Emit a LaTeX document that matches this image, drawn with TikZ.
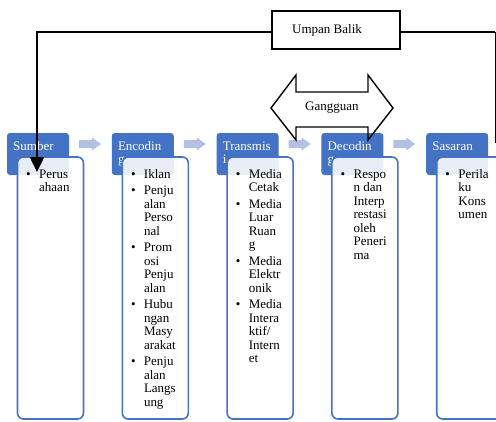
\documentclass[tikz,border=0pt]{standalone}
\usepackage{fontspec}
\setmainfont{Liberation Serif}
\usetikzlibrary{arrows.meta}
\definecolor{hdr}{RGB}{68,114,196}
\definecolor{chev}{RGB}{178,192,226}
\newcommand{\bitem}[1]{\par\hangindent=13pt\hangafter=1\noindent\makebox[13pt][l]{\textbullet}#1\par}
\newcommand{\colbox}[1]{\parbox[t]{64pt}{\fontsize{13}{13.5}\selectfont\setlength\parskip{3pt}#1}}
\newcommand{\hdrtext}[1]{\parbox[t]{60pt}{\fontsize{13}{13}\selectfont #1}}
\tikzset{
  hdrbox/.style={fill=hdr, rounded corners=3pt},
  lowbox/.style={draw=hdr, line width=1.6pt, fill=white, fill opacity=0.88, rounded corners=6pt},
  chevron/.style={fill=chev},
  htext/.style={anchor=base west, inner sep=0, text=white},
  ltext/.style={anchor=base west, inner sep=0, text=black},
  plain/.style={inner sep=0, font=\fontsize{13}{13.5}\selectfont},
  fbline/.style={line width=1.5pt, black},
}
\begin{document}
\begin{tikzpicture}[x=1pt,y=-1pt]
\useasboundingbox (0,0) rectangle (496,421);
\clip (0,0) rectangle (496,421);
% headers
\foreach \i/\nm in {0/s,1/e,2/t,3/d,4/r}{
  \pgfmathsetmacro{\hx}{7+104.8*\i}
  \fill[hdrbox] (\hx,133) rectangle ++(62,42);
  \coordinate (h\nm) at (\hx,133);
}
% chevrons
\foreach \i in {0,1,2,3}{
  \pgfmathsetmacro{\cx}{79+104.8*\i}
  \fill[chevron] (\cx,140) -- ++(13,0) -- ++(0,-2.5) -- ++(9,6.5) -- ++(-9,6.5) -- ++(0,-2.5) -- ++(-13,0) -- cycle;
}
% header texts
\node[htext] (hts) at ([xshift=6pt,yshift=-17.5pt]hs) {\hdrtext{Sumber}};
\node[htext] (hte) at ([xshift=6pt,yshift=-17.5pt]he) {\hdrtext{Encodin\\g}};
\node[htext] (htt) at ([xshift=6pt,yshift=-17.5pt]ht) {\hdrtext{Transmis\\i}};
\node[htext] (htd) at ([xshift=6pt,yshift=-17.5pt]hd) {\hdrtext{Decodin\\g}};
\node[htext] (htr) at ([xshift=6pt,yshift=-17.5pt]hr) {\hdrtext{Sasaran}};
% lower boxes
\foreach \i/\nm in {0/s,1/e,2/t,3/d,4/r}{
  \pgfmathsetmacro{\lx}{17.5+104.8*\i}
  \draw[lowbox] (\lx,157) rectangle ++(66,262);
  \coordinate (l\nm) at (\lx,178);
}
% lower texts
\node[ltext] (ls) at ([xshift=8.5pt]ls) {\colbox{\bitem{Perus\\ahaan}}};
\node[ltext] (le) at ([xshift=8.5pt]le) {\colbox{\bitem{Iklan}\bitem{Penju\\alan\\Perso\\nal}\bitem{Prom\\osi\\Penju\\alan}\bitem{Hubu\\ngan\\Masy\\arakat}\bitem{Penju\\alan\\Langs\\ung}}};
\node[ltext] (lt) at ([xshift=8.5pt]lt) {\colbox{\bitem{Media\\Cetak}\bitem{Media\\Luar\\Ruan\\g}\bitem{Media\\Elektr\\onik}\bitem{Media\\Intera\\ktif/\\Intern\\et}}};
\node[ltext] (ld) at ([xshift=8.5pt]ld) {\colbox{\bitem{Respo\\n dan\\Interp\\restasi\\oleh\\Peneri\\ma}}};
\node[ltext] (lr) at ([xshift=8.5pt]lr) {\colbox{\bitem{Perila\\ku\\Kons\\umen}}};
% Gangguan double arrow
\draw[line width=1.4pt, black, line join=miter]
  (271,108) -- (296,75) -- (296,92) -- (368,92) -- (368,75) -- (393,108)
  -- (368,140) -- (368,127) -- (296,127) -- (296,140) -- cycle;
\node[plain, anchor=base west] (gg) at (305,110.5) {Gangguan};
% Umpan Balik
\node[draw, line width=1.5pt, minimum width=128pt, minimum height=38pt, inner sep=0, anchor=north west] (ub) at (271,10) {};
\node[plain, anchor=base west] (ubt) at (292,33.5) {Umpan Balik};
\coordinate (fbL) at (37,32);
\coordinate (fbR) at (495,32);
\coordinate (fbT) at (37,172);
\coordinate (fbB) at (495,143);
\draw[fbline] (ub.west |- fbL) -- ([xshift=-1.25pt]fbL);
\draw[fbline] (ub.east |- fbR) -- ([xshift=0.4pt]fbR);
\draw[line width=0.8pt] (fbR) -- (fbB);
\draw[line width=2.5pt, -{Triangle[width=14pt,length=15pt]}] ([yshift=-0.75pt]fbL) -- (fbT);
\end{tikzpicture}
\end{document}
